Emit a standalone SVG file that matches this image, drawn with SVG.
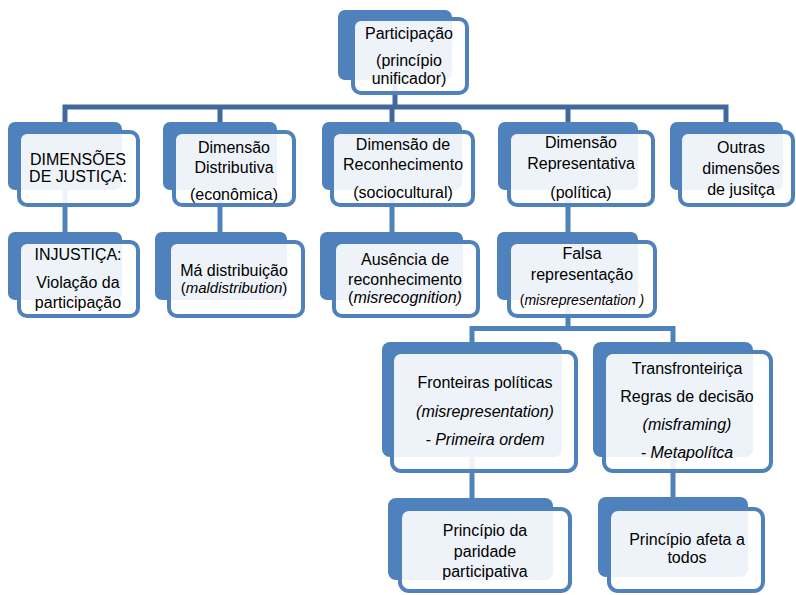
<svg xmlns="http://www.w3.org/2000/svg" width="796" height="595" viewBox="0 0 796 595">
<style>
.back{fill:#4f81bd}
.front{fill:#ffffff;fill-opacity:0.9;stroke:#4f81bd;stroke-width:4}
.c1{fill:none;stroke:#41699e;stroke-width:5;stroke-linejoin:miter}
.c2{fill:none;stroke:#4f81bd;stroke-width:5;stroke-linejoin:miter}
text{font-family:"Liberation Sans",Arial,sans-serif;font-size:16px;fill:#000;text-anchor:middle}
.i{font-style:italic}
</style>
<rect width="796" height="595" fill="#fff"/>
<g id="connectors">
<path class="c1" d="M395 80 V107"/>
<path class="c1" d="M65 122 V107 H726 V122"/>
<path class="c1" d="M220 107 V122 M392 107 V122 M568 107 V122"/>
<path class="c2" d="M65 190 V232 M220 190 V232 M392 190 V232 M568 190 V232"/>
<path class="c2" d="M568 300 V328.5"/>
<path class="c2" d="M472 342 V328.5 H673 V342"/>
<path class="c2" d="M472 457 V498 M673 457 V497"/>
</g>
<g id="n-top">
<rect class="back" x="338" y="10" width="114" height="70" rx="7"/>
<rect class="front" x="353" y="19" width="114" height="74" rx="8"/>
<text x="409" y="39">Participação</text>
<text x="409" y="66">(princípio</text>
<text x="409" y="84">unificador)</text>
</g>
<g id="n-dimensoes">
<rect class="back" x="8" y="122" width="114" height="68" rx="7"/>
<rect class="front" x="19" y="132" width="119" height="73" rx="8"/>
<text x="78" y="165">DIMENSÕES</text>
<text x="78" y="182">DE JUSTIÇA:</text>
</g>
<g id="n-distributiva">
<rect class="back" x="163" y="122" width="114" height="68" rx="7"/>
<rect class="front" x="174" y="132" width="120" height="73" rx="8"/>
<text x="234" y="153">Dimensão</text>
<text x="234" y="173">Distributiva</text>
<text x="234" y="200">(econômica)</text>
</g>
<g id="n-reconhecimento">
<rect class="back" x="322" y="122" width="140" height="68" rx="7"/>
<rect class="front" x="332" y="132" width="141" height="73" rx="8"/>
<text x="403" y="150">Dimensão de</text>
<text x="403" y="170">Reconhecimento</text>
<text x="403" y="198">(sociocultural)</text>
</g>
<g id="n-representativa">
<rect class="back" x="498" y="122" width="140" height="68" rx="7"/>
<rect class="front" x="509" y="132" width="144" height="73" rx="8"/>
<text x="581" y="148">Dimensão</text>
<text x="581" y="169">Representativa</text>
<text x="581" y="198">(política)</text>
</g>
<g id="n-outras">
<rect class="back" x="670" y="122" width="113" height="68" rx="7"/>
<rect class="front" x="680" y="132" width="113" height="73" rx="8"/>
<text x="741" y="153">Outras</text>
<text x="741" y="174">dimensões</text>
<text x="741" y="195">de jusitça</text>
</g>
<g id="n-injustica">
<rect class="back" x="8" y="232" width="114" height="68" rx="7"/>
<rect class="front" x="19" y="242" width="119" height="74" rx="8"/>
<text x="78" y="260">INJUSTIÇA:</text>
<text x="78" y="288">Violação da</text>
<text x="78" y="308">participação</text>
</g>
<g id="n-ma-distribuicao">
<rect class="back" x="155" y="232" width="132" height="68" rx="7"/>
<rect class="front" x="169" y="242" width="134" height="74" rx="8"/>
<text x="234" y="276">Má distribuição</text>
<text x="234" y="293" style="font-size:15px">(<tspan class="i">maldistribution</tspan>)</text>
</g>
<g id="n-ausencia">
<rect class="back" x="320" y="232" width="143" height="68" rx="7"/>
<rect class="front" x="334" y="242" width="144" height="74" rx="8"/>
<text x="405" y="265">Ausência de</text>
<text x="405" y="285">reconhecimento</text>
<text x="405" y="303">(<tspan class="i">misrecognition)</tspan></text>
</g>
<g id="n-falsa">
<rect class="back" x="497" y="232" width="141" height="68" rx="7"/>
<rect class="front" x="509" y="242" width="146" height="74" rx="8"/>
<text x="582" y="259">Falsa</text>
<text x="582" y="280">representação</text>
<text x="582" y="305" style="font-size:14px">(<tspan class="i">misrepresentation )</tspan></text>
</g>
<g id="n-fronteiras">
<rect class="back" x="382" y="342" width="180" height="115" rx="8"/>
<rect class="front" x="392" y="352" width="184" height="119" rx="9"/>
<text x="485" y="388">Fronteiras políticas</text>
<text x="485" y="417" class="i">(misrepresentation)</text>
<text x="485" y="445" class="i">- Primeira ordem</text>
</g>
<g id="n-transfronteirica">
<rect class="back" x="593" y="342" width="160" height="115" rx="8"/>
<rect class="front" x="604" y="352" width="167" height="119" rx="9"/>
<text x="687" y="374">Transfronteiriça</text>
<text x="687" y="402">Regras de decisão</text>
<text x="687" y="430" class="i">(misframing)</text>
<text x="687" y="458" class="i">- Metapolítca</text>
</g>
<g id="n-paridade">
<rect class="back" x="388" y="498" width="165" height="82" rx="8"/>
<rect class="front" x="400" y="509" width="170" height="82" rx="9"/>
<text x="485" y="536">Princípio da</text>
<text x="485" y="557">paridade</text>
<text x="485" y="577">participativa</text>
</g>
<g id="n-afeta">
<rect class="back" x="598" y="497" width="150" height="80" rx="8"/>
<rect class="front" x="609" y="509" width="154" height="82" rx="9"/>
<text x="687" y="545">Princípio afeta a</text>
<text x="687" y="563">todos</text>
</g>
</svg>
